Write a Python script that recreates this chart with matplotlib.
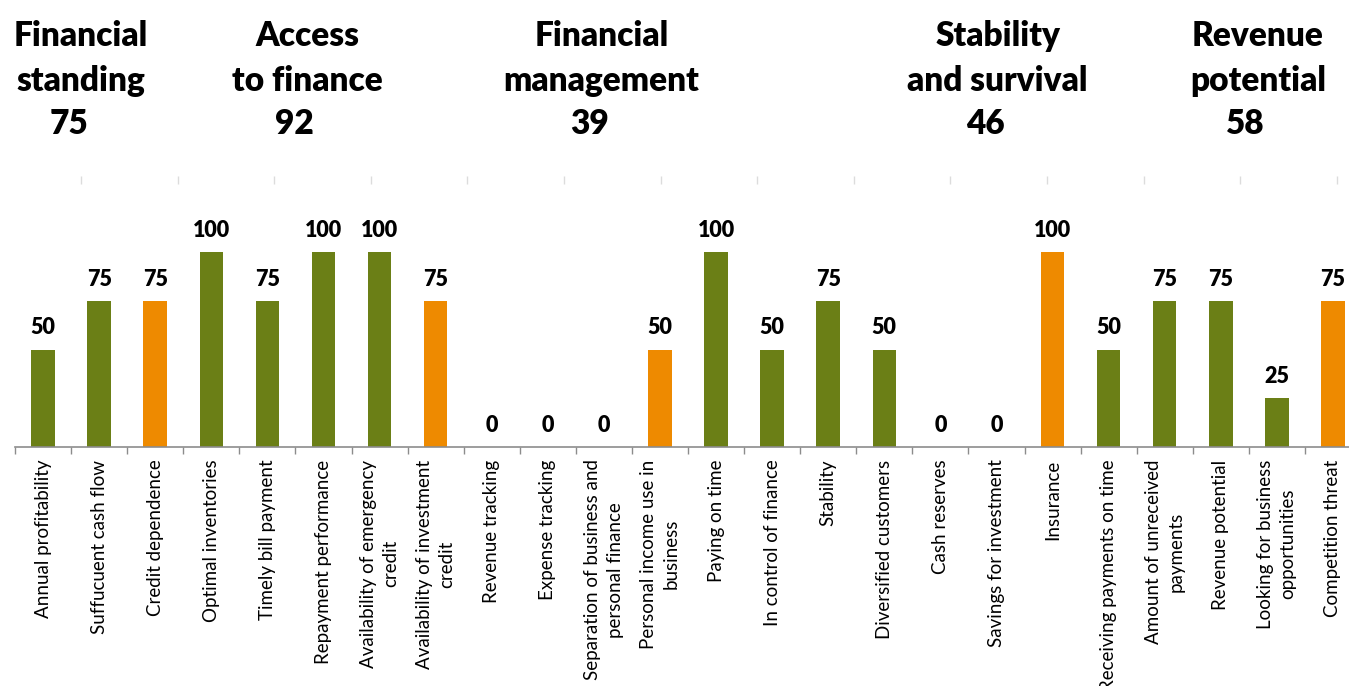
import numpy as np
import matplotlib
matplotlib.use("Agg")
import matplotlib.pyplot as plt
import matplotlib.transforms as mtransforms

# Indicator labels (line breaks as in the original chart)
categories = [
    "Annual profitability", "Suffucuent cash flow", "Credit dependence",
    "Optimal inventories", "Timely bill payment", "Repayment performance",
    "Availability of emergency\ncredit", "Availability of investment\ncredit",
    "Revenue tracking", "Expense tracking",
    "Separation of business and\npersonal finance",
    "Personal income use in\nbusiness", "Paying on time",
    "In control of finance", "Stability", "Diversified customers",
    "Cash reserves", "Savings for investment", "Insurance",
    "Receiving payments on time", "Amount of unreceived\npayments",
    "Revenue potential", "Looking for business\nopportunities",
    "Competition threat",
]
scores = [50, 75, 75, 100, 75, 100, 100, 75, 0, 0, 0, 50,
          100, 50, 75, 50, 0, 0, 100, 50, 75, 75, 25, 75]
# orange bars mark the risk-type indicators
is_risk = [False, False, True, False, False, False, False, True,
           False, False, False, True, False, False, False, False,
           False, False, True, False, False, False, False, True]

# Group headers
group_names = ["Financial\nstanding", "Access\nto finance", "Financial\nmanagement",
               "Stability\nand survival", "Revenue\npotential"]
group_scores = [75, 92, 39, 46, 58]
group_pos = [0.68, 4.71, 9.96, 17.02, 21.66]

GREEN = "#6b7f16"
ORANGE = "#ee8a00"

W, H = 1349, 686
fig = plt.figure(figsize=(W / 100, H / 100), dpi=100)
ax = fig.add_axes([15 / W, 239 / H, 1346 / W, 267 / H])

x = np.arange(len(categories))
colors = [ORANGE if r else GREEN for r in is_risk]
bars = ax.bar(x, scores, width=0.42, color=colors)

ax.bar_label(bars, padding=8, fontsize=15.5, fontweight="heavy",
             family="Lato", color="black")

ax.set_xlim(-0.5, len(categories) - 0.5)
ax.set_ylim(0, 137)
ax.set_yticks([])
for side in ["left", "right", "top"]:
    ax.spines[side].set_visible(False)
ax.spines["bottom"].set_color("#8c8c8c")
ax.spines["bottom"].set_linewidth(1.2)

ax.set_xticks(x)
ax.set_xticklabels(categories, rotation=90, fontsize=13.5, family="Lato",
                   va="top", ha="center", multialignment="center",
                   linespacing=1.4)
ax.tick_params(axis="x", which="major", length=0, pad=9)
ax.set_xticks(np.arange(-0.5, len(categories) + 0.5, 1), minor=True)
ax.tick_params(axis="x", which="minor", length=5, width=1, color="#8c8c8c")

# faint ticks along the top of the plot area
top = ax.twiny()
top.set_xlim(-0.683, 13.25)
top.set_xticks(np.arange(0, 14))
top.set_xticklabels([])
top.tick_params(axis="x", length=6, width=1, color="#dcdcdc", direction="inout")
for side in ["left", "right", "top", "bottom"]:
    top.spines[side].set_visible(False)
top.set_yticks([])

# headers above the chart
trans = mtransforms.blended_transform_factory(ax.transData, fig.transFigure)
for name, score, pos in zip(group_names, group_scores, group_pos):
    fig.text(pos, 1 - 20 / H, name, transform=trans, ha="center", va="top",
             fontsize=24, fontweight="heavy", family="Lato",
             multialignment="center", linespacing=1.5)
    fig.text(pos - 0.22, 1 - 108 / H, str(score), transform=trans,
             ha="center", va="top", fontsize=24, fontweight="heavy",
             family="Lato")

fig.savefig("out.png", dpi=100)
